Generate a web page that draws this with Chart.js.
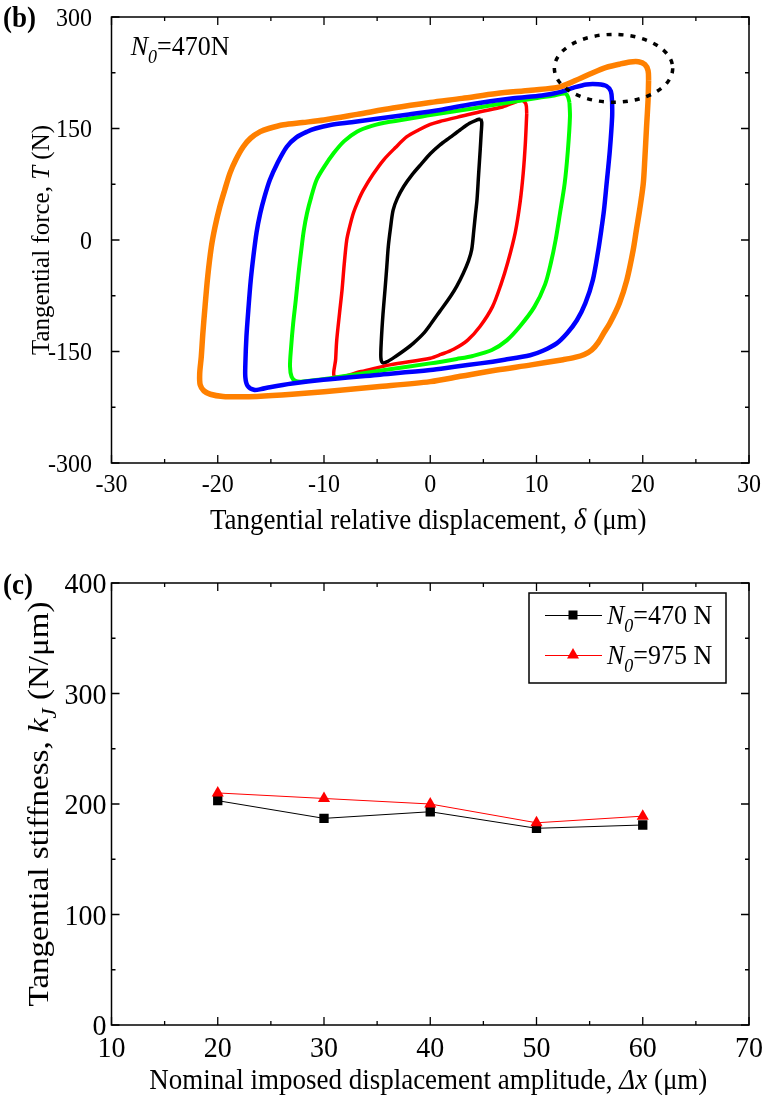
<!DOCTYPE html>
<html>
<head>
<meta charset="utf-8">
<script src="https://cdn.jsdelivr.net/npm/chart.js@4.4.0/dist/chart.umd.min.js"></script>
<style>
body { margin: 0; background: #fff; }
#wrap { position: relative; width: 766px; height: 1095px; }
canvas { position: absolute; left: 0; }
#loops { top: 0; }
#stiff { top: 545px; }
</style>
</head>
<body>
<div id="wrap">
  <canvas id="loops" width="766" height="545"></canvas>
  <canvas id="stiff" width="766" height="550"></canvas>
</div>
<script>
// (b) hysteresis loops, delta (um) vs T (N)
const orangeX = [20.55, 20.5, 20.2, 19.6, 18.8, 17.8, 16.3, 14.2, 12.2, 9.5, 6.25, 3, 0, -3.5, -6.9, -10, -12, -13.8, -15.2, -16, -16.9, -17.6, -18.3, -18.85, -19.35, -19.8, -20.25, -20.6, -20.95, -21.2, -21.4, -21.55, -21.7, -21.65, -21.3, -20.7, -19.5, -18, -16.3, -13, -10, -5, 0, 3, 6.25, 9.5, 12.5, 13.6, 14.5, 15.2, 15.8, 16.3, 16.9, 17.8, 18.5, 19.1, 19.4, 19.7, 20.05, 20.2, 20.35, 20.5, 20.55];
const orangeY = [215, 228, 236, 239.8, 239.5, 236.5, 231, 218, 206, 201.5, 197, 190.5, 185, 177.5, 169, 161.5, 158, 155, 150, 145.7, 137, 125.5, 108, 90, 67, 45, 18, -9, -50, -90, -125, -157, -180, -195, -203, -207.5, -210.5, -211, -210.5, -207.5, -204, -197.5, -190.5, -183, -175, -168, -161, -158, -154, -148, -138, -126, -112, -85, -54, -13.5, 13.5, 40, 76, 110, 150, 188, 215];

const blueX = [17.12, 17, 16.6, 15.8, 14.7, 13.5, 12.2, 10.5, 7.8, 4, 0.92, -2.2, -5.36, -7.4, -9.4, -10.8, -11.6, -12.6, -13.5, -14.4, -15.1, -15.6, -16, -16.35, -16.65, -16.9, -17.1, -17.3, -17.4, -17.4, -17.2, -16.6, -15.9, -15.1, -13, -10.06, -5, 0, 2.3, 4.7, 7, 9.4, 10.6, 11.9, 12.9, 13.8, 14.6, 15.3, 15.8, 16.1, 16.35, 16.6, 16.9, 17.12, 17.12];
const blueY = [185, 200, 207, 209.5, 209.3, 205, 199, 194.5, 190.6, 183, 175, 168.5, 162.4, 158.5, 154.7, 150, 145.7, 138, 125.5, 103, 80.7, 58, 36, 10, -22.5, -55, -90, -130, -166, -185, -196, -201.5, -200.5, -198, -193, -188, -181.5, -175, -170.5, -166, -161, -155, -149, -139, -125, -108, -85, -54, -15, 13.5, 40, 76, 120, 166, 185];

const greenX = [13.1, 12.95, 12.68, 11.5, 10.2, 7.8, 4, 0, -3.8, -5.5, -6.9, -8.1, -9.1, -10, -10.7, -11.2, -11.6, -11.9, -12.1, -12.4, -12.65, -12.9, -13.1, -13.2, -13.05, -12.7, -12, -10.3, -8.5, -4.3, 0, 2.5, 4, 5.8, 7.2, 8.45, 9.8, 10.8, 11.35, 11.8, 12.2, 12.65, 12.95, 13.15, 13.1];
const greenY = [185, 193, 197, 194, 191.5, 186, 177, 168, 159, 153.5, 145.7, 133, 116.6, 98, 80.7, 58, 36, 13, -9, -45, -80, -112, -145, -170, -184, -189.5, -190.5, -187.5, -184, -175, -166, -160, -156, -148, -135, -116, -90, -60, -31, 0, 35, 76, 120, 166, 185];

const redX = [9.08, 9, 8.6, 6.8, 4.7, 2.5, 0.9, 0, -1.1, -2.2, -3.3, -4.4, -5.4, -6.3, -6.8, -7.24, -7.6, -7.86, -8.1, -8.3, -8.55, -8.8, -8.9, -8.97, -6.5, -3.8, 0, 1, 2.2, 3.5, 4.7, 5.85, 6.65, 7.3, 8, 8.45, 8.75, 8.95, 9.08];
const redY = [170, 183, 188, 179, 172.6, 165, 159.5, 155.5, 148, 139, 124, 107.6, 88, 67, 52, 36, 17, 0, -33, -67, -100, -134.5, -160, -184, -177, -168, -159, -154, -147, -135, -116, -90, -60, -30, 10, 50, 90, 130, 170];

const blackX = [4.75, 4.3, 3.7, 2.8, 1.86, 0.92, 0, -0.8, -1.7, -2.5, -3.1, -3.5, -3.75, -3.95, -4.1, -4.26, -4.45, -4.6, -4.65, -4.5, -4.1, -3.2, -2.4, -1.6, -0.65, 0.1, 0.9, 1.9, 2.5, 3.1, 3.6, 3.9, 4.1, 4.25, 4.4, 4.55, 4.7, 4.8, 4.85, 4.75];
const blackY = [163, 161, 157, 148, 138, 128, 116, 103, 88, 72, 56, 40, 15, -9, -38, -67, -100, -134, -158, -165, -164, -156, -148, -139, -126, -112, -96, -76, -62, -45, -28, -13, 13, 34, 54, 88, 121, 145, 158, 163];

const loopXTicks = [-30, -20, -10, 0, 10, 20, 30];
const loopYTicks = [-300, -150, 0, 150, 300];

// (c) tangential stiffness vs nominal amplitude
const amplitudes = [20, 30, 40, 50, 60];
const stiff470 = [203, 187, 193, 178, 181];
const stiff975 = [210, 205, 200, 183, 189];
const stiffXTicks = [10, 20, 30, 40, 50, 60, 70];
const stiffYTicks = [0, 100, 200, 300, 400];

const FONT = '"Liberation Serif", "Times New Roman", serif';
const TEXT_SY = 1.08; // text in the source figure is a little taller than wide

function pts(xs, ys) {
    return xs.map((x, i) => ({ x: x, y: ys[i] }));
}

// draw text made of pieces: n = normal, i = italic, s = italic subscript, b = bold
function drawRich(ctx, parts, x, y, size, align, sx, sy) {
    sx = sx || 1; sy = sy || 1;
    const fontFor = p => (p[1] === 'i' || p[1] === 's' ? 'italic ' : '') + (p[1] === 'b' ? 'bold ' : '') +
        (p[1] === 's' ? Math.round(size * 0.7) : size) + 'px ' + FONT;
    let total = 0;
    parts.forEach(p => { ctx.font = fontFor(p); total += ctx.measureText(p[0]).width; });
    ctx.save();
    ctx.translate(x, y);
    ctx.scale(sx, sy);
    let cx = align === 'center' ? -total / 2 : (align === 'right' ? -total : 0);
    ctx.textAlign = 'left';
    ctx.textBaseline = 'alphabetic';
    parts.forEach(p => {
        ctx.font = fontFor(p);
        ctx.fillText(p[0], cx, p[1] === 's' ? size * 0.28 : 0);
        cx += ctx.measureText(p[0]).width;
    });
    ctx.restore();
}

function drawFrame(chart, xMinor, yMinor) {
    const ctx = chart.ctx, a = chart.chartArea;
    const xs = chart.scales.x, ys = chart.scales.y;
    ctx.save();
    ctx.strokeStyle = '#000';
    ctx.lineWidth = 1.5;
    ctx.strokeRect(a.left, a.top, a.right - a.left, a.bottom - a.top);
    ctx.lineWidth = 1.3;
    ctx.beginPath();
    for (let v = xs.min; v <= xs.max + 1e-9; v += xMinor) {
        const px = xs.getPixelForValue(v);
        const len = Math.abs(Math.round(v / xMinor)) % 2 === 0 ? 8 : 4;
        ctx.moveTo(px, a.bottom); ctx.lineTo(px, a.bottom - len);
        ctx.moveTo(px, a.top); ctx.lineTo(px, a.top + len);
    }
    for (let v = ys.min; v <= ys.max + 1e-9; v += yMinor) {
        const py = ys.getPixelForValue(v);
        const len = Math.abs(Math.round(v / yMinor)) % 2 === 0 ? 8 : 4;
        ctx.moveTo(a.left, py); ctx.lineTo(a.left + len, py);
        ctx.moveTo(a.right, py); ctx.lineTo(a.right - len, py);
    }
    ctx.stroke();
    ctx.restore();
}

// tick numbers, drawn from the scale ticks
function drawTickLabels(chart, size, yGap, xMid) {
    const ctx = chart.ctx, a = chart.chartArea;
    const xs = chart.scales.x, ys = chart.scales.y;
    ctx.save();
    ctx.fillStyle = '#000';
    const base = size * 0.34 * TEXT_SY;
    ys.ticks.forEach(t => {
        drawRich(ctx, [[String(t.value), 'n']], a.left - yGap, ys.getPixelForValue(t.value) + base, size, 'right', 1, TEXT_SY);
    });
    xs.ticks.forEach(t => {
        drawRich(ctx, [[String(t.value), 'n']], xs.getPixelForValue(t.value), a.bottom + xMid + base, size, 'center', 1, TEXT_SY);
    });
    ctx.restore();
}

function axisTitles(chart, t) {
    const ctx = chart.ctx, a = chart.chartArea;
    ctx.save();
    ctx.fillStyle = '#000';
    drawRich(ctx, t.x, (a.left + a.right) / 2 - 2, a.bottom + t.xOff, t.xSize, 'center', 1, TEXT_SY);
    ctx.translate(a.left - t.yOff, (a.top + a.bottom) / 2);
    ctx.rotate(-Math.PI / 2);
    drawRich(ctx, t.y, 0, 0, t.ySize, 'center', t.yStretch || 1, 1);
    ctx.restore();
}

function scaleOpts(ticksArr, min, max, fitKey, fitVal) {
    return {
        type: 'linear', min: min, max: max,
        afterBuildTicks: s => { s.ticks = ticksArr.map(v => ({ value: v })); },
        afterFit: s => {
            s[fitKey] = fitVal;
            s.paddingTop = 0; s.paddingBottom = 0; s.paddingLeft = 0; s.paddingRight = 0;
        },
        grid: { display: false, drawTicks: false },
        border: { display: false },
        ticks: { display: false }
    };
}

const loopsDecor = {
    id: 'loopsDecor',
    afterDraw(chart) {
        const ctx = chart.ctx, xs = chart.scales.x, ys = chart.scales.y;
        drawFrame(chart, 5, 75);
        drawTickLabels(chart, 24, 19.5, 20);
        axisTitles(chart, {
            x: [['Tangential relative displacement, ', 'n'], ['\u03b4', 'i'], [' (\u03bcm)', 'n']],
            y: [['Tangential force, ', 'n'], ['T', 'i'], [' (N)', 'n']],
            xOff: 66, xSize: 27, yOff: 63, ySize: 25
        });
        ctx.save();
        ctx.fillStyle = '#000';
        drawRich(ctx, [['(b)', 'b']], 3, 27, 27, 'left', 1, TEXT_SY);
        drawRich(ctx, [['N', 'i'], ['0', 's'], ['=470N', 'n']], xs.getPixelForValue(-28.2), ys.getPixelForValue(249), 26, 'left', 1, TEXT_SY);
        // dotted ellipse marking the upper corner
        ctx.strokeStyle = '#000';
        ctx.lineWidth = 3.5;
        ctx.setLineDash([5, 7]);
        const cx = xs.getPixelForValue(17.25), cy = ys.getPixelForValue(231);
        const rx = xs.getPixelForValue(17.25 + 5.57) - cx, ry = cy - ys.getPixelForValue(231 + 45.6);
        ctx.beginPath();
        ctx.ellipse(cx, cy, rx, ry, 0, 0, Math.PI * 2);
        ctx.stroke();
        ctx.restore();
    }
};

new Chart(document.getElementById('loops'), {
    type: 'scatter',
    data: {
        datasets: [
            { data: pts(orangeX, orangeY), borderColor: '#ff8000', borderWidth: 5.5 },
            { data: pts(blueX, blueY), borderColor: '#0000ff', borderWidth: 4.5 },
            { data: pts(greenX, greenY), borderColor: '#00ff00', borderWidth: 4 },
            { data: pts(redX, redY), borderColor: '#ff0000', borderWidth: 3.5 },
            { data: pts(blackX, blackY), borderColor: '#000000', borderWidth: 3.5 }
        ].map(d => Object.assign(d, { showLine: true, pointRadius: 0, tension: 0.3, fill: false }))
    },
    options: {
        responsive: false,
        animation: false,
        layout: { padding: { top: 17, right: 17, left: 0, bottom: 0 } },
        plugins: { legend: { display: false }, tooltip: { enabled: false } },
        scales: {
            x: scaleOpts(loopXTicks, -30, 30, 'height', 82),
            y: scaleOpts(loopYTicks, -300, 300, 'width', 111.5)
        }
    },
    plugins: [loopsDecor]
});

const stiffDecor = {
    id: 'stiffDecor',
    afterDraw(chart) {
        const ctx = chart.ctx, a = chart.chartArea;
        drawFrame(chart, 5, 50);
        drawTickLabels(chart, 28, 5, 22);
        axisTitles(chart, {
            x: [['Nominal imposed displacement amplitude, ', 'n'], ['\u0394x', 'i'], [' (\u03bcm)', 'n']],
            y: [['Tangential stiffness, ', 'n'], ['k', 'i'], ['J', 's'], [' (N/\u03bcm)', 'n']],
            xOff: 64, xSize: 27, yOff: 64, ySize: 29, yStretch: 1.14
        });
        ctx.save();
        ctx.fillStyle = '#000';
        drawRich(ctx, [['(c)', 'b']], 3, 49, 27, 'left', 1, TEXT_SY);
        // legend box
        const bx = a.right - 220, by = a.top + 10, bw = 197, bh = 90;
        ctx.strokeStyle = '#000';
        ctx.lineWidth = 1.5;
        ctx.strokeRect(bx, by, bw, bh);
        const entries = [
            { ds: chart.data.datasets[1], text: '=470 N', y: by + 22 },
            { ds: chart.data.datasets[0], text: '=975 N', y: by + 62 }
        ];
        entries.forEach(e => {
            ctx.strokeStyle = e.ds.borderColor;
            ctx.lineWidth = 1;
            ctx.beginPath();
            ctx.moveTo(bx + 16, e.y + 0.5); ctx.lineTo(bx + 73, e.y + 0.5);
            ctx.stroke();
            ctx.fillStyle = e.ds.backgroundColor;
            const mx = bx + 44;
            if (e.ds.pointStyle === 'rect') {
                ctx.fillRect(mx - 4.5, e.y - 4.5, 9, 9);
            } else {
                ctx.beginPath();
                ctx.moveTo(mx, e.y - 7);
                ctx.lineTo(mx + 6, e.y + 3.5);
                ctx.lineTo(mx - 6, e.y + 3.5);
                ctx.closePath();
                ctx.fill();
            }
            ctx.fillStyle = '#000';
            drawRich(ctx, [['N', 'i'], ['0', 's'], [e.text, 'n']], bx + 78, e.y + 9, 26, 'left', 1, 1.04);
        });
        ctx.restore();
    }
};

new Chart(document.getElementById('stiff'), {
    type: 'scatter',
    data: {
        datasets: [
            { data: pts(amplitudes, stiff975), borderColor: '#ff0000', backgroundColor: '#ff0000', pointStyle: 'triangle', pointRadius: 7 },
            { data: pts(amplitudes, stiff470), borderColor: '#000000', backgroundColor: '#000000', pointStyle: 'rect', pointRadius: 6.6 }
        ].map(d => Object.assign(d, { showLine: true, borderWidth: 1, pointBorderWidth: 0, tension: 0 }))
    },
    options: {
        responsive: false,
        animation: false,
        layout: { padding: { top: 38, right: 17, left: 0, bottom: 0 } },
        plugins: { legend: { display: false }, tooltip: { enabled: false } },
        scales: {
            x: scaleOpts(stiffXTicks, 10, 70, 'height', 70),
            y: scaleOpts(stiffYTicks, 0, 400, 'width', 111.5)
        }
    },
    plugins: [stiffDecor]
});
</script>
</body>
</html>
